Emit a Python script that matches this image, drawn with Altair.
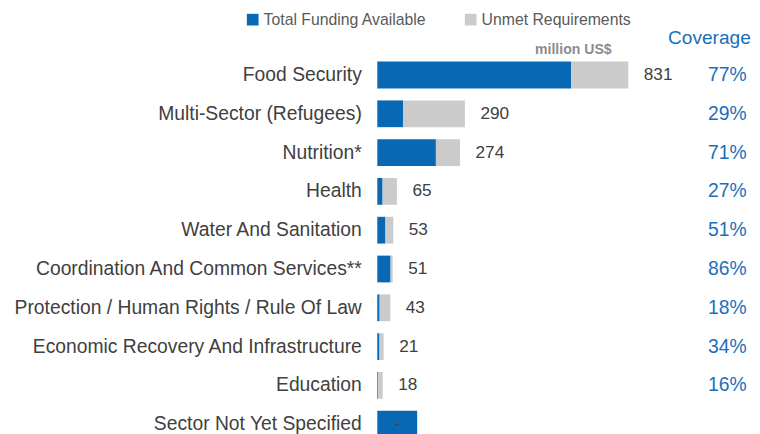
import altair as alt
import pandas as pd

sectors = [
    "Food Security",
    "Multi-Sector (Refugees)",
    "Nutrition*",
    "Health",
    "Water And Sanitation",
    "Coordination And Common Services**",
    "Protection / Human Rights / Rule Of Law",
    "Economic Recovery And Infrastructure",
    "Education",
    "Sector Not Yet Specified",
]
requirements = [831, 290, 274, 65, 53, 51, 43, 21, 18, None]
funding = [642, 85, 194, 17.5, 27, 44, 7.7, 7.1, 2.9, 132]
total_labels = ["831", "290", "274", "65", "53", "51", "43", "21", "18", "-"]
coverage = ["77%", "29%", "71%", "27%", "51%", "86%", "18%", "34%", "16%", ""]

seg_funded = "Total Funding Available"
seg_unmet = "Unmet Requirements"
BLUE = "#0868B3"
GRAY = "#CBCBCB"

rows = []
for s, r, f in zip(sectors, requirements, funding):
    unmet = (r - f) if r is not None else 0
    rows.append({"sector": s, "segment": seg_funded, "value": f, "ord": 0})
    rows.append({"sector": s, "segment": seg_unmet, "value": unmet, "ord": 1})
bars_df = pd.DataFrame(rows)

lab_df = pd.DataFrame({
    "sector": sectors,
    "total": [r if r is not None else 0 for r in requirements],
    "funded": funding,
    "label": total_labels,
    "coverage": coverage,
    "has_req": [r is not None for r in requirements],
})

xscale = alt.Scale(domain=[0, 1225], nice=False, zero=True)
yscale = alt.Scale(domain=sectors, range=[0, 388], paddingInner=0.31, paddingOuter=0.155)

y_enc = alt.Y("sector:N", sort=sectors, scale=yscale,
              axis=alt.Axis(title=None, domain=False, ticks=False, labelPadding=16,
                            labelFontSize=19.3, labelColor="#404040", labelLimit=420,
                            labelFont="Liberation Sans"))

bars = alt.Chart(bars_df).mark_bar().encode(
    x=alt.X("value:Q", stack="zero", scale=xscale, axis=None),
    y=y_enc,
    order=alt.Order("ord:Q"),
    color=alt.Color("segment:N",
                    scale=alt.Scale(domain=[seg_funded, seg_unmet], range=[BLUE, GRAY]),
                    legend=alt.Legend(title=None, orient="none", legendX=-132.5, legendY=-44,
                                      direction="horizontal", symbolType="square",
                                      symbolSize=137, symbolStrokeWidth=0,
                                      labelFontSize=15.8, labelColor="#595959",
                                      labelFont="Liberation Sans", labelOffset=3,
                                      columnPadding=36, padding=0, labelLimit=300)),
)

totals = alt.Chart(lab_df).transform_filter("datum.has_req").mark_text(
    align="left", baseline="middle", dx=15.5, fontSize=17.2, color="#404040",
    font="Liberation Sans"
).encode(
    x=alt.X("total:Q", scale=xscale),
    y=alt.Y("sector:N", sort=sectors, scale=yscale),
    text="label:N",
)

dash = alt.Chart(lab_df).transform_filter("!datum.has_req").transform_calculate(
    mid="datum.funded / 2"
).mark_text(
    align="center", baseline="middle", fontSize=15, color="#404040",
    font="Liberation Sans"
).encode(
    x=alt.X("mid:Q", scale=xscale),
    y=alt.Y("sector:N", sort=sectors, scale=yscale),
    text="label:N",
)

cov = alt.Chart(lab_df).mark_text(
    align="right", baseline="middle", fontSize=19.3, color="#1A6FBA",
    font="Liberation Sans"
).encode(
    x=alt.value(369.4),
    y=alt.Y("sector:N", sort=sectors, scale=yscale),
    text="coverage:N",
)

hdr_df = pd.DataFrame({"t": ["Coverage"]})
cov_hdr = alt.Chart(hdr_df).mark_text(
    align="right", baseline="middle", fontSize=19.1, color="#1A6FBA",
    font="Liberation Sans"
).encode(x=alt.value(373.5), y=alt.value(-17.3), text="t:N")

unit_df = pd.DataFrame({"t": ["million US$"]})
unit = alt.Chart(unit_df).mark_text(
    align="right", baseline="middle", fontSize=14.1, fontWeight="bold", color="#8C8C8C",
    font="Liberation Sans"
).encode(x=alt.value(234.4), y=alt.value(-5.6), text="t:N")

chart = alt.layer(bars, totals, dash, cov, cov_hdr, unit).properties(
    width=370, height=378,
    background="white",
    autosize=alt.AutoSizeParams(type="none"),
    padding={"left": 369.3, "top": 47.6, "right": 4.7, "bottom": 0},
).configure_view(stroke=None)

chart.save("out.html", embed_options={"renderer": "svg", "actions": False})
